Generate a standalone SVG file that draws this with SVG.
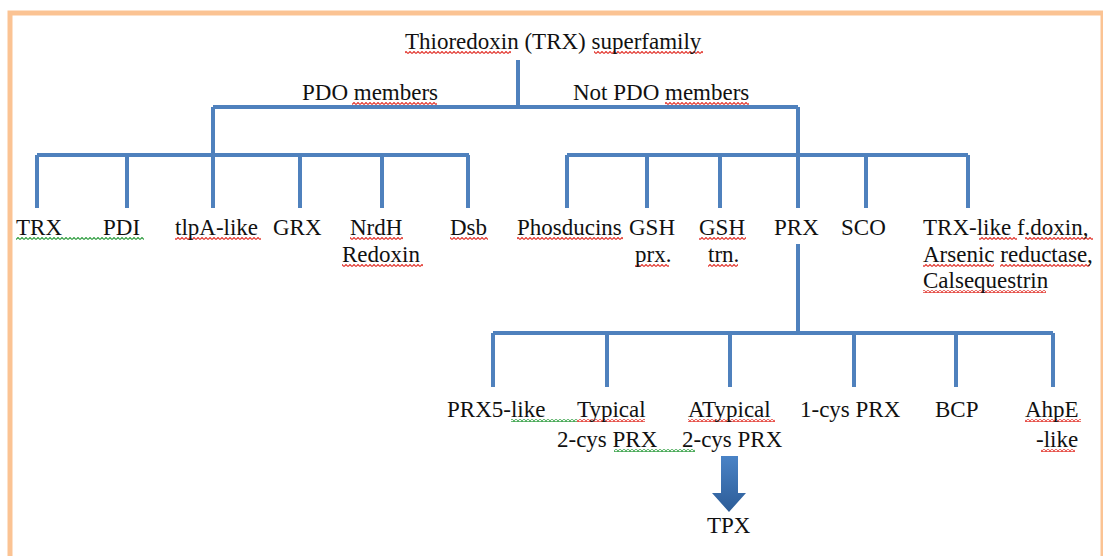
<svg xmlns="http://www.w3.org/2000/svg" width="1103" height="556" viewBox="0 0 1103 556">
<defs>
<style>
.t{font-family:"Liberation Serif","Times New Roman",serif;font-size:23px;fill:#111;}
.c{fill:none;stroke:#4F81BD;stroke-width:4;stroke-linecap:butt;}
.sr{fill:url(#sqR);}
.sg{fill:url(#sqG);}
</style>
<pattern id="sqR" patternUnits="userSpaceOnUse" x="0" y="0" width="4" height="3">
<path d="M0 2.5 L2 0.5 L4 2.5" fill="none" stroke="#E33B33" stroke-width="1.2"/>
</pattern>
<pattern id="sqG" patternUnits="userSpaceOnUse" x="0" y="0" width="4" height="3">
<path d="M0 2.5 L2 0.5 L4 2.5" fill="none" stroke="#35A045" stroke-width="1.2"/>
</pattern>
<linearGradient id="ag" x1="0" y1="0" x2="0" y2="1">
<stop offset="0" stop-color="#4A83C6"/>
<stop offset="1" stop-color="#2C5C97"/>
</linearGradient>
</defs>
<rect x="0" y="0" width="1103" height="556" fill="#fff"/>
<rect x="10" y="13" width="1093" height="560" fill="none" stroke="#FBC393" stroke-width="5"/>

<g id="connectors">
<path class="c" d="M518 60 V107 M213 107 H798 M213 107 V208 M798 107 V208"/>
<path class="c" d="M37 155 H469 M37 155 V208 M127 155 V208 M300 155 V208 M382 155 V208 M468 155 V208"/>
<path class="c" d="M567 155 H968 M567 155 V208 M647 155 V208 M720 155 V208 M866 155 V208 M968 155 V208"/>
<path class="c" d="M798 244 V333 M493 333 H1053 M493 333 V387 M607 333 V387 M730 333 V387 M854 333 V387 M956 333 V387 M1053 333 V387"/>
<polygon points="721,456 738,456 738,493 746,493 729,512 712,493 721,493" fill="url(#ag)"/>
</g>

<g id="spellcheck">
<rect class="sr" x="405" y="51" width="106" height="3"/>
<rect class="sr" x="594" y="51" width="109" height="3"/>
<rect class="sr" x="352" y="102" width="85" height="3"/>
<rect class="sr" x="665" y="102" width="84" height="3"/>
<rect class="sg" x="16" y="237" width="128" height="3"/>
<rect class="sr" x="175" y="237" width="86" height="3"/>
<rect class="sr" x="350" y="237" width="53" height="3"/>
<rect class="sr" x="450" y="237" width="38" height="3"/>
<rect class="sr" x="517" y="237" width="106" height="3"/>
<rect class="sr" x="699" y="237" width="47" height="3"/>
<rect class="sr" x="979" y="237" width="38" height="3"/>
<rect class="sr" x="1025" y="237" width="68" height="3"/>
<rect class="sr" x="342" y="264" width="81" height="3"/>
<rect class="sr" x="635" y="264" width="34" height="3"/>
<rect class="sr" x="708" y="264" width="30" height="3"/>
<rect class="sr" x="923" y="264" width="71" height="3"/>
<rect class="sr" x="1000" y="264" width="90" height="3"/>
<rect class="sr" x="923" y="290" width="123" height="3"/>
<rect class="sg" x="511" y="419" width="66" height="3"/>
<rect class="sr" x="577" y="419" width="68" height="3"/>
<rect class="sr" x="688" y="419" width="87" height="3"/>
<rect class="sr" x="1025" y="419" width="56" height="3"/>
<rect class="sg" x="614" y="449" width="81" height="3"/>
<rect class="sr" x="1041" y="449" width="34" height="3"/>
</g>

<g id="n-root"><text class="t" x="405" y="49">Thioredoxin (TRX) superfamily</text></g>
<g id="n-pdo"><text class="t" x="302" y="100">PDO members</text></g>
<g id="n-notpdo"><text class="t" x="573" y="100">Not PDO members</text></g>

<g id="n-trx"><text class="t" x="16" y="235">TRX</text></g>
<g id="n-pdi"><text class="t" x="103" y="235">PDI</text></g>
<g id="n-tlpa"><text class="t" x="175" y="235">tlpA-like</text></g>
<g id="n-grx"><text class="t" x="273" y="235">GRX</text></g>
<g id="n-nrdh"><text class="t" x="350" y="235">NrdH</text><text class="t" x="342" y="262">Redoxin</text></g>
<g id="n-dsb"><text class="t" x="450" y="235">Dsb</text></g>

<g id="n-phosducins"><text class="t" x="517" y="235">Phosducins</text></g>
<g id="n-gshprx"><text class="t" x="629" y="235">GSH</text><text class="t" x="635" y="262">prx.</text></g>
<g id="n-gshtrn"><text class="t" x="699" y="235">GSH</text><text class="t" x="708" y="262">trn.</text></g>
<g id="n-prx"><text class="t" x="774" y="235">PRX</text></g>
<g id="n-sco"><text class="t" x="841" y="235">SCO</text></g>
<g id="n-trxlike"><text class="t" x="923" y="235">TRX-like f.doxin,</text><text class="t" x="923" y="262">Arsenic reductase,</text><text class="t" x="923" y="288">Calsequestrin</text></g>

<g id="n-prx5"><text class="t" x="447" y="417">PRX5-like</text></g>
<g id="n-typical"><text class="t" x="577" y="417">Typical</text><text class="t" x="557" y="447">2-cys PRX</text></g>
<g id="n-atypical"><text class="t" x="688" y="417">ATypical</text><text class="t" x="682" y="447">2-cys PRX</text></g>
<g id="n-1cys"><text class="t" x="800" y="417">1-cys PRX</text></g>
<g id="n-bcp"><text class="t" x="935" y="417">BCP</text></g>
<g id="n-ahpe"><text class="t" x="1025" y="417">AhpE</text><text class="t" x="1036" y="447">-like</text></g>

<g id="n-tpx"><text class="t" x="707" y="533">TPX</text></g>
</svg>
